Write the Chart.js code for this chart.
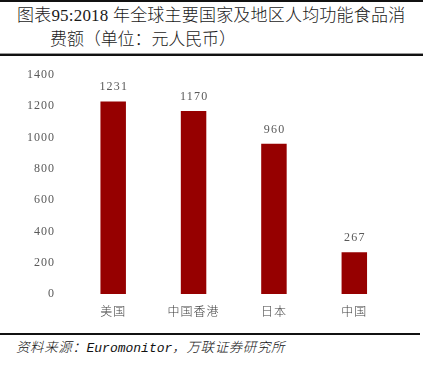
<!DOCTYPE html>
<html>
<head>
<meta charset="utf-8">
<script src="https://cdn.jsdelivr.net/npm/chart.js@4.4.0/dist/chart.umd.min.js"></script>
<style>
  html, body { margin: 0; padding: 0; background: #fff; }
  body { width: 423px; height: 375px; position: relative; overflow: hidden; }
  .rule { position: absolute; left: 0; background: #111; }
  .t { position: absolute; white-space: nowrap; color: #1a1a1a; font-weight: 300;
       font-family: "Liberation Serif", "Noto Sans CJK SC", serif; font-size: 17px; line-height: 20px; }
  #src { position: absolute; left: 16px; top: 338px; white-space: nowrap; color: #111; font-style: italic; line-height: 16px; }
  #src .cn { font-family: "Noto Sans CJK SC", sans-serif; font-size: 13.5px; font-weight: 300; letter-spacing: 0.6px; }
  #src .en { font-family: "Liberation Mono", monospace; font-size: 13px; }
  #wrap { position: absolute; left: 0; top: 60px; width: 423px; height: 264px; }
</style>
</head>
<body>
<div class="rule" style="top:0px;width:423px;height:2px;"></div>
<div class="t" style="left:17px;top:6px;letter-spacing:0.2px;">图表95:2018 年全球主要国家及地区人均功能食品消</div>
<div class="t" style="left:50px;top:30px;letter-spacing:-0.1px;">费额（单位：元人民币）</div>
<div class="rule" style="top:53px;width:423px;height:1px;background:#999;"></div>
<div class="rule" style="top:54px;width:423px;height:2px;"></div>
<div id="wrap"><canvas id="c"></canvas></div>
<div class="rule" style="top:333px;width:420px;height:2px;"></div>
<div id="src"><span class="cn">资料来源：</span><span class="en">Euromonitor</span><span class="cn">，万联证券研究所</span></div>
<script>
const categories = ["美国", "中国香港", "日本", "中国"];
const values = [1231, 1170, 960, 267];
const yTicks = [0, 200, 400, 600, 800, 1000, 1200, 1400];

const spacing = {
  id: 'spacing',
  beforeDraw(chart) { chart.ctx.letterSpacing = '1px'; }
};
const labels = {
  id: 'labels',
  afterDatasetsDraw(chart) {
    const ctx = chart.ctx;
    const meta = chart.getDatasetMeta(0);
    ctx.save();
    ctx.letterSpacing = '1.2px';
    ctx.font = '12px "Liberation Serif", serif';
    ctx.fillStyle = '#595959';
    ctx.textAlign = 'center';
    ctx.textBaseline = 'alphabetic';
    meta.data.forEach((bar, i) => {
      ctx.fillText(String(values[i]), bar.x + 0.6, bar.y - 11);
    });
    ctx.restore();
  }
};

new Chart(document.getElementById('c'), {
  type: 'bar',
  data: {
    labels: categories,
    datasets: [{
      data: values,
      backgroundColor: '#960000',
      borderWidth: 0,
      barPercentage: 0.317,
      categoryPercentage: 1
    }]
  },
  options: {
    responsive: true,
    maintainAspectRatio: false,
    animation: false,
    events: [],
    layout: { padding: { left: 0, right: 28.5, top: 15, bottom: 0 } },
    plugins: { legend: { display: false }, tooltip: { enabled: false } },
    scales: {
      x: {
        grid: { display: false, drawTicks: false },
        border: { display: false },
        ticks: {
          color: '#404040',
          font: { family: '"Noto Sans CJK SC", sans-serif', size: 12, weight: 300 },
          padding: 10,
          maxRotation: 0
        },
        afterFit(s) { s.height = 30; s.paddingLeft = 0; s.paddingRight = 0; }
      },
      y: {
        min: 0, max: 1400,
        grid: { display: false, drawTicks: false },
        border: { display: false },
        ticks: {
          stepSize: 200,
          color: '#595959',
          font: { family: '"Liberation Serif", serif', size: 12 },
          padding: 18,
          callback: (v) => yTicks.includes(v) ? String(v) : ''
        },
        afterFit(s) { s.width = 73; s.paddingTop = 0; s.paddingBottom = 0; }
      }
    }
  },
  plugins: [spacing, labels]
});
</script>
</body>
</html>
